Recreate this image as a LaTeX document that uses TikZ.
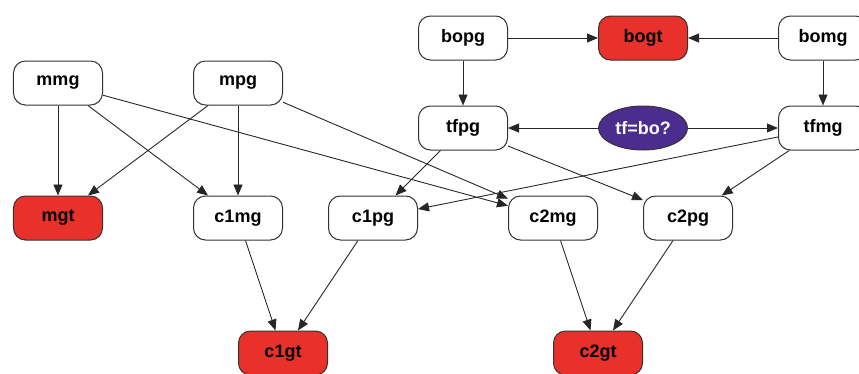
\documentclass[tikz,border=0pt]{standalone}
\usepackage{fontspec}
\setmainfont{Liberation Sans}
\usepackage{tikz}
\usetikzlibrary{shapes.geometric}
\usetikzlibrary{arrows.meta}
\definecolor{goalred}{RGB}{232,49,42}
\definecolor{testblue}{RGB}{74,45,143}
\tikzset{
  gnode/.style={draw=black!80, rectangle, rounded corners=12pt, fill=white, line width=1pt,
    minimum width=89pt, minimum height=44pt, inner sep=0pt,
    font=\fontsize{18}{20}\selectfont\bfseries},
  goal/.style={gnode, fill=goalred},
  test/.style={gnode, ellipse, rounded corners=0pt, fill=testblue, text=white},
  edge/.style={-{Triangle[length=11pt,width=9pt]}, line width=0.9pt, black!85}
}

\begin{document}
\begin{tikzpicture}[x=45pt, y=-45pt]
            \useasboundingbox (-58pt,38pt) rectangle (801pt,-335pt);
            \node[gnode] (mmg) at (0,1) {mmg};
            \node[gnode] (mpg) at (4,1) {mpg};
            \node[gnode] (bopg) at (9,0) {bopg};
            \node[goal] (bogt) at (13,0) {bogt};
            \node[gnode] (bomg) at (17,0) {bomg};
            
            \node[gnode] (tfpg) at (9,2) {tfpg};
            \node[test] (tfbo) at (13,2) {tf=bo?};
            \node[gnode] (tfmg) at (17,2) {tfmg};
            
            \node[goal] (mgt) at (0,4) {mgt};
            \node[gnode] (c1mg) at (4,4) {c1mg};
            \node[gnode] (c1pg) at (7,4) {c1pg};
            \node[gnode] (c2mg) at (11,4) {c2mg};
            \node[gnode] (c2pg) at (14,4) {c2pg};
            
            \node[goal] (c1gt) at (5,7) {c1gt};
            \node[goal] (c2gt) at (12,7) {c2gt};
            
            \draw[edge] (mmg) -- (mgt);
            \draw[edge] (mmg) -- (c1mg);
            \draw[edge] (mmg) -- (c2mg);
            \draw[edge] (mpg) -- (mgt);
            \draw[edge] (mpg) -- (c1mg);
            \draw[edge] (mpg) -- (c2mg);
            
            \draw[edge] (bopg) -- (bogt);
            \draw[edge] (bomg) -- (bogt);
            \draw[edge] (bopg) -- (tfpg);
            \draw[edge] (bomg) -- (tfmg);
            \draw[edge] (tfbo) -- (tfpg);
            \draw[edge] (tfbo) -- (tfmg);
            
            \draw[edge] (tfpg) -- (c1pg);
            \draw[edge] (tfpg) -- (c2pg);
            \draw[edge] (tfmg) -- (c1pg);
            \draw[edge] (tfmg) -- (c2pg);
            
            \draw[edge] (c1mg) -- (c1gt);
            \draw[edge] (c1pg) -- (c1gt);
            \draw[edge] (c2mg) -- (c2gt);
            \draw[edge] (c2pg) -- (c2gt);
        \end{tikzpicture}
\end{document}
